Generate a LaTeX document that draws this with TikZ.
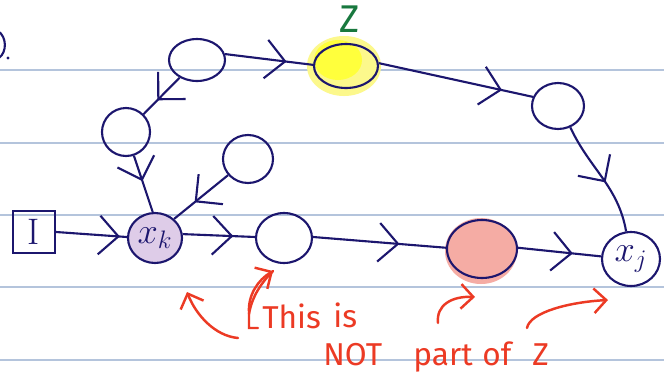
\documentclass[tikz,border=0pt]{standalone}
\usepackage{fontspec}
\newfontfamily\hand{Fira Sans}
\usetikzlibrary{arrows.meta,shapes.geometric,decorations.markings}
\definecolor{ink}{RGB}{28,22,110}
\definecolor{rulecol}{RGB}{180,196,220}
\definecolor{redink}{RGB}{236,58,36}
\definecolor{greenink}{RGB}{24,120,62}
\definecolor{purp}{RGB}{222,204,232}
\definecolor{salmon}{RGB}{245,172,164}
\definecolor{hlout}{RGB}{252,248,140}
\definecolor{hlin}{RGB}{255,255,60}
\tikzset{
  nd/.style={ellipse, draw=ink, line width=1.2pt, inner sep=0pt},
  edge/.style={draw=ink, line width=1.2pt},
  midarrow/.style={postaction={decorate}, decoration={markings,
      mark=at position #1 with {\arrow[ink,line width=1.2pt]{Straight Barb[length=11pt,width=22pt]}}}},
  redarrow/.style={draw=redink, line width=1.4pt, line cap=round,
      -{Straight Barb[length=7pt,width=14pt]}},
  redtext/.style={text=redink, font=\hand\fontsize{18}{20}\selectfont, inner sep=0pt, anchor=base west},
  ruling/.style={draw=rulecol, line width=0.9pt}
}
\begin{document}
\begin{tikzpicture}[x=0.02cm,y=-0.02cm]
\useasboundingbox (0,0) rectangle (664,376);
\fill[white] (0,0) rectangle (664,376);
% ruled lines
\foreach \yy in {70,143,215,287,360} {\draw[ruling] (0,\yy) -- (664,\yy);}
% highlight behind Z node
\fill[hlout] (344,66) ellipse [x radius=37, y radius=30];
\fill[hlin] (338,60) ellipse [x radius=24, y radius=20];
% salmon fill for red node
\fill[salmon] (481,251) ellipse [x radius=36, y radius=33];
% top-left fragment
\draw[ink, line width=1.2pt] (-2,31) .. controls (7,37) and (7,52) .. (-1,58);
\fill[ink] (8,58) circle [radius=1.6];
% nodes
\node[nd, minimum width=1.12cm, minimum height=0.84cm] (A) at (197,60) {};
\node[nd, minimum width=1.28cm, minimum height=0.88cm] (Z) at (346,66) {};
\node[nd, minimum width=1.04cm, minimum height=0.92cm] (R) at (558,106) {};
\node[nd, minimum width=0.96cm, minimum height=0.96cm] (B) at (126,132) {};
\node[nd, minimum width=1.0cm, minimum height=0.96cm] (C) at (248,159) {};
\node[draw=ink, line width=1.2pt, minimum width=0.84cm, minimum height=0.84cm, inner sep=0pt,
      font=\fontsize{21}{22}\selectfont, text=ink] (I) at (34,232) {I};
\node[nd, fill=purp, minimum width=1.08cm, minimum height=1.0cm, text=ink,
      font=\fontsize{20}{22}\selectfont] (XK) at (155,238) {$x_k$};
\node[nd, minimum width=1.12cm, minimum height=1.0cm] (D) at (284,238) {};
\node[nd, minimum width=1.4cm, minimum height=1.16cm] (E) at (482,249) {};
\node[nd, minimum width=1.16cm, minimum height=1.08cm, text=ink,
      font=\fontsize{20}{22}\selectfont] (XJ) at (631,259) {$x_j$};
% Z label
\node[text=greenink, font=\hand\fontsize{22}{24}\selectfont, inner sep=0pt] (ZL) at (350,19) {Z};
% connectors
\draw[edge, midarrow=0.62] (A) -- (B);
\draw[edge, midarrow=0.7] (A.12) -- (Z.178);
\draw[edge, midarrow=0.8] (Z.5) -- (R.160);
\draw[edge, midarrow=0.55] (R.300) to[out=-65, in=100] (XJ.100);
\draw[edge, midarrow=0.45] (B) -- (XK.95);
\draw[edge, midarrow=0.62] (C) -- (XK.45);
\draw[edge, midarrow=0.9] (I.east) -- (XK.178);
\draw[edge, midarrow=0.7] (XK.8) -- (D.178);
\draw[edge, midarrow=0.65] (D.2) -- (E.178);
\draw[edge, midarrow=0.66] (E.2) -- (XJ.175);
% red annotations
\coordinate (t1) at (187,292);
\coordinate (s1) at (238,338);
\draw[redarrow] (s1) .. controls (215,336) and (196,315) .. (t1);
\coordinate (t2) at (273,271);
\draw[redarrow] (258,328) -- (249,328) -- (249,312) .. controls (248,295) and (258,280) .. (t2);
\draw[draw=redink, line width=1.4pt, line cap=round] (249,314) .. controls (252,296) and (262,282) .. (t2);
\coordinate (t3) at (475,297);
\draw[redarrow] (438,323) .. controls (436,305) and (452,296) .. (t3);
\coordinate (t4) at (608,300);
\draw[redarrow] (527,328) .. controls (530,312) and (570,302) .. (t4);
\node[redtext] (w1) at (262,328) {This};
\node[redtext] (w2) at (333,327) {is};
\node[redtext] (w3) at (323,365) {NOT};
\node[redtext] (w4) at (413,365) {part};
\node[redtext] (w5) at (482,365) {of};
\node[redtext] (w6) at (532,365) {Z};
\end{tikzpicture}
\end{document}
